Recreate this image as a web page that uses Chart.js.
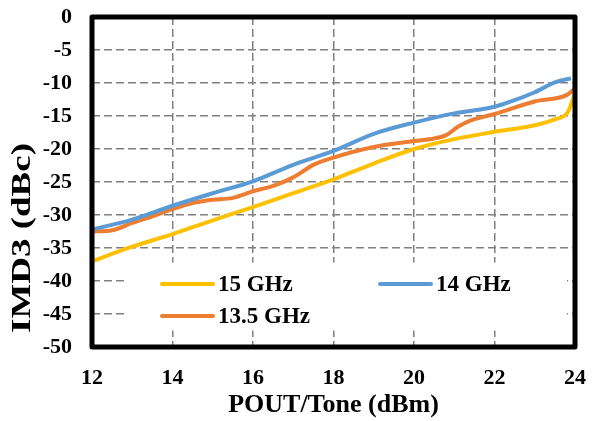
<!DOCTYPE html>
<html>
<head>
<meta charset="utf-8">
<script src="https://cdn.jsdelivr.net/npm/chart.js@4.4.1/dist/chart.umd.min.js"></script>
<style>
  html, body { margin: 0; padding: 0; background: #fff; }
  #wrap { width: 600px; height: 421px; }
</style>
</head>
<body>
<div id="wrap"><canvas id="c" width="600" height="421"></canvas></div>
<script>
// IMD3 versus output power per tone, three carrier frequencies
const seriesLabels = ['15 GHz', '14 GHz', '13.5 GHz'];
const seriesColors = ['#FFC000', '#5B9BD5', '#ED7D31'];

const pout15 = [12, 13, 14, 15, 16, 17, 18, 19, 20, 21, 22, 23, 23.5, 23.8, 23.9, 24];
const imd15  = [-37.0, -34.8, -32.9, -30.8, -28.8, -26.7, -24.6, -22.2, -20.0, -18.5, -17.4, -16.4, -15.5, -14.6, -13.3, -11.6];

const pout14 = [12, 13, 14, 15, 16, 17, 18, 19, 20, 21, 22, 22.5, 23, 23.5, 23.9];
const imd14  = [-32.2, -30.7, -28.6, -26.7, -24.9, -22.4, -20.3, -17.7, -16.0, -14.6, -13.6, -12.6, -11.4, -9.9, -9.3];

const pout135 = [12, 12.5, 13, 13.5, 14, 14.5, 15, 15.5, 16, 16.5, 17, 17.5, 18, 19, 20, 20.5, 20.8, 21.1, 21.4, 22, 23, 23.8, 24];
const imd135  = [-32.5, -32.3, -31.2, -30.2, -29.1, -28.2, -27.7, -27.4, -26.4, -25.6, -24.3, -22.4, -21.3, -19.7, -18.8, -18.4, -17.9, -16.6, -15.7, -14.7, -12.8, -11.8, -10.8];

const xTicks = [12, 14, 16, 18, 20, 22, 24];
const yTicks = [0, -5, -10, -15, -20, -25, -30, -35, -40, -45, -50];
const yTitle = 'IMD3 (dBc)';

const FONT = "'Liberation Serif', 'Times New Roman', serif";

function pts(xs, ys) { return xs.map((x, i) => ({ x: x, y: ys[i] })); }

const seriesData = [pts(pout15, imd15), pts(pout14, imd14), pts(pout135, imd135)];

// White legend panel inside the plot, two columns
const legendPanel = {
  id: 'legendPanel',
  beforeDatasetsDraw(chart) {
    const { ctx, scales } = chart;
    const x0 = scales.x.getPixelForValue(12.85), x1 = scales.x.getPixelForValue(23.8);
    const y0 = scales.y.getPixelForValue(-37.2), y1 = scales.y.getPixelForValue(-47.5);
    ctx.save();
    ctx.fillStyle = '#ffffff';
    ctx.fillRect(x0, y0, x1 - x0, y1 - y0);
    ctx.restore();
  },
  afterDraw(chart) {
    const { ctx } = chart;
    const items = [
      { i: 0, lx: 162, y: 284 },
      { i: 1, lx: 380, y: 284 },
      { i: 2, lx: 162, y: 316 }
    ];
    ctx.save();
    ctx.font = 'bold 23px ' + FONT;
    ctx.textBaseline = 'middle';
    ctx.textAlign = 'left';
    items.forEach(it => {
      ctx.strokeStyle = seriesColors[it.i];
      ctx.lineWidth = 4;
      ctx.lineCap = 'round';
      ctx.beginPath();
      ctx.moveTo(it.lx, it.y);
      ctx.lineTo(it.lx + 51, it.y);
      ctx.stroke();
      ctx.fillStyle = '#000';
      ctx.fillText(chart.data.datasets[it.i].label, it.lx + 56, it.y + 1);
    });
    ctx.restore();
  }
};

// Heavy black frame round the plot area, plus the stretched y-axis title
const plotFrame = {
  id: 'plotFrame',
  afterDatasetsDraw(chart) {
    const { ctx, chartArea: a } = chart;
    ctx.save();
    ctx.strokeStyle = '#000';
    ctx.lineWidth = 5;
    ctx.lineJoin = 'round';
    ctx.strokeRect(a.left, a.top, a.right - a.left, a.bottom - a.top);
    ctx.restore();
  },
  afterDraw(chart) {
    const { ctx } = chart;
    ctx.save();
    ctx.translate(23, 238);
    ctx.rotate(-Math.PI / 2);
    ctx.font = 'bold 27px ' + FONT;
    const w = ctx.measureText(yTitle).width;
    ctx.scale(190 / w, 1);
    ctx.fillStyle = '#000';
    ctx.textAlign = 'center';
    ctx.textBaseline = 'middle';
    ctx.fillText(yTitle, 0, 0);
    ctx.restore();
  }
};

const hidden = 'rgba(0,0,0,0)';

new Chart(document.getElementById('c'), {
  type: 'line',
  data: {
    datasets: seriesLabels.map((lab, i) => ({
      label: lab,
      data: seriesData[i],
      borderColor: seriesColors[i],
      backgroundColor: seriesColors[i],
      borderWidth: 4,
      pointRadius: 0,
      tension: 0.4,
      cubicInterpolationMode: 'monotone',
      fill: false
    }))
  },
  options: {
    responsive: false,
    animation: false,
    devicePixelRatio: 1,
    layout: { padding: { top: 17, right: 25, left: 0, bottom: 0 } },
    plugins: { legend: { display: false }, tooltip: { enabled: false } },
    scales: {
      x: {
        type: 'linear',
        min: 12, max: 24,
        afterBuildTicks: s => { s.ticks = xTicks.map(v => ({ value: v })); },
        afterFit: s => { s.height = 74; },
        grid: { color: '#808080', lineWidth: 1.5, drawTicks: true, tickLength: 18, tickColor: hidden },
        border: { display: false, dash: [8, 4] },
        ticks: { color: '#000', padding: 0, font: { family: FONT, size: 22, weight: 'bold' } },
        title: { display: true, text: 'POUT/Tone (dBm)', color: '#000', padding: { top: 0, bottom: 0 },
                 font: { family: FONT, size: 26, weight: 'bold' } }
      },
      y: {
        type: 'linear',
        min: -50, max: 0,
        afterBuildTicks: s => { s.ticks = yTicks.map(v => ({ value: v })); },
        afterFit: s => { s.width = 92; },
        grid: { color: '#808080', lineWidth: 1.5, drawTicks: true, tickLength: 20, tickColor: hidden },
        border: { display: false, dash: [8, 4] },
        ticks: { color: '#000', padding: 0, font: { family: FONT, size: 22, weight: 'bold' } },
        title: { display: false }
      }
    }
  },
  plugins: [legendPanel, plotFrame]
});
</script>
</body>
</html>
